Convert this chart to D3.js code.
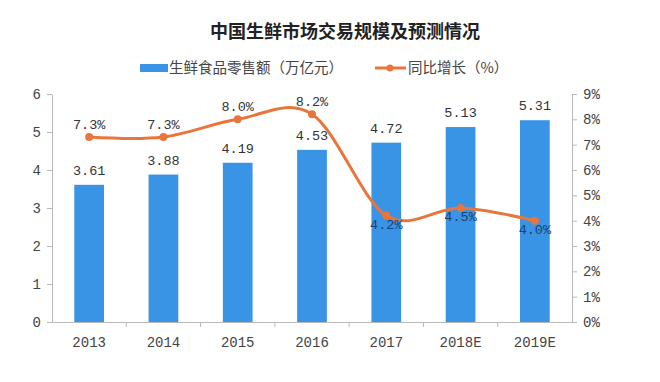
<!DOCTYPE html>
<html>
<head>
<meta charset="utf-8">
<script src="https://cdn.jsdelivr.net/npm/d3@7"></script>
<style>
  body { margin: 0; background: #fff; }
  svg { display: block; }
</style>
</head>
<body>
<div id="chart"></div>
<script>
// chart values
var years = ['2013', '2014', '2015', '2016', '2017', '2018E', '2019E'];
var sales = [3.61, 3.88, 4.19, 4.53, 4.72, 5.13, 5.31];
var growth = [7.3, 7.3, 8.0, 8.2, 4.2, 4.5, 4.0];
var leftTicks = [0, 1, 2, 3, 4, 5, 6];
var rightTicks = [0, 1, 2, 3, 4, 5, 6, 7, 8, 9];

var width = 660, height = 382;
var plotLeft = 52, plotRight = 572, plotTop = 94, plotBottom = 322;
var numFont = '"Liberation Mono", monospace';
var cjkFont = '"Noto Sans CJK SC", sans-serif';
var blue = '#3a94e6', orange = '#e8763c', axisColor = '#b8b8b8', textColor = '#444';

var svg = d3.select('#chart').append('svg').attr('width', width).attr('height', height);

var x = d3.scaleBand().domain(years).range([plotLeft, plotRight]).paddingInner(0.6).paddingOuter(0.3);
var y = d3.scaleLinear().domain([0, 6]).range([plotBottom, plotTop]);
var y2 = d3.scaleLinear().domain([0, 9]).range([plotBottom, plotTop]);

// title
svg.append('text')
   .attr('x', 345).attr('y', 38)
   .attr('text-anchor', 'middle')
   .style('font-family', cjkFont).style('font-size', '18px').style('font-weight', 'bold')
   .attr('fill', '#222')
   .text('中国生鲜市场交易规模及预测情况');

// legend
var lg = svg.append('g').style('font-family', cjkFont).style('font-size', '14.5px').attr('fill', textColor);
lg.append('rect').attr('x', 140).attr('y', 64).attr('width', 28).attr('height', 8).attr('fill', blue);
lg.append('text').attr('x', 169).attr('y', 73).text('生鲜食品零售额（万亿元）');
lg.append('line').attr('x1', 375).attr('x2', 406).attr('y1', 68).attr('y2', 68)
  .attr('stroke', orange).attr('stroke-width', 3);
lg.append('circle').attr('cx', 390).attr('cy', 68).attr('r', 3.5).attr('fill', orange);
lg.append('text').attr('x', 408).attr('y', 73).text('同比增长（%）');

// axes
function styleAxis(g) {
  g.selectAll('path, line').attr('stroke', axisColor);
  g.selectAll('text').style('font-family', numFont).style('font-size', '14px').attr('fill', textColor);
}

svg.append('g')
   .attr('transform', 'translate(' + plotLeft + ',0)')
   .call(d3.axisLeft(y).tickValues(leftTicks).tickSize(5).tickSizeOuter(0).tickPadding(6)
         .tickFormat(d3.format('d')))
   .call(styleAxis);

svg.append('g')
   .attr('transform', 'translate(' + plotRight + ',0)')
   .call(d3.axisRight(y2).tickValues(rightTicks).tickSize(5).tickSizeOuter(0).tickPadding(6)
         .tickFormat(function (d) { return d + '%'; }))
   .call(styleAxis);

var xAxis = svg.append('g')
   .attr('transform', 'translate(0,' + plotBottom + ')')
   .call(d3.axisBottom(x).tickSize(0).tickSizeOuter(0).tickPadding(15))
   .call(styleAxis);

// ticks between categories
xAxis.selectAll('.sep')
   .data(years.slice(1))
   .enter()
   .append('line')
   .attr('x1', function (d) { return x(d) - x.bandwidth() * 0.75; })
   .attr('x2', function (d) { return x(d) - x.bandwidth() * 0.75; })
   .attr('y1', 0).attr('y2', 5)
   .attr('stroke', axisColor);

// bars
svg.selectAll('rect.bar')
   .data(sales)
   .enter()
   .append('rect')
   .attr('class', 'bar')
   .attr('x', function (d, i) { return x(years[i]); })
   .attr('y', function (d) { return y(d); })
   .attr('width', x.bandwidth())
   .attr('height', function (d) { return plotBottom - y(d); })
   .attr('fill', blue);

svg.selectAll('text.barLabel')
   .data(sales)
   .enter()
   .append('text')
   .attr('class', 'barLabel')
   .attr('x', function (d, i) { return x(years[i]) + x.bandwidth() / 2; })
   .attr('y', function (d) { return y(d) - 10; })
   .attr('text-anchor', 'middle')
   .style('font-family', numFont).style('font-size', '13.5px')
   .attr('fill', '#333')
   .text(function (d) { return d.toFixed(2); });

// growth line
var cx = function (d, i) { return x(years[i]) + x.bandwidth() / 2; };
var line = d3.line()
   .x(cx)
   .y(function (d) { return y2(d); })
   .curve(d3.curveCardinal.tension(0));

svg.append('path')
   .datum(growth)
   .attr('d', line)
   .attr('fill', 'none')
   .attr('stroke', orange)
   .attr('stroke-width', 3);

svg.selectAll('circle.pt')
   .data(growth)
   .enter()
   .append('circle')
   .attr('class', 'pt')
   .attr('cx', cx)
   .attr('cy', function (d) { return y2(d); })
   .attr('r', 4)
   .attr('fill', orange);

svg.selectAll('text.lineLabel')
   .data(growth)
   .enter()
   .append('text')
   .attr('class', 'lineLabel')
   .attr('x', cx)
   .attr('y', function (d, i) { return i < 4 ? y2(d) - 8 : y2(d) + 13; })
   .attr('text-anchor', 'middle')
   .style('font-family', numFont).style('font-size', '13.5px')
   .attr('fill', function (d, i) { return i < 4 ? '#333' : '#1f3f6e'; })
   .text(function (d) { return d.toFixed(1) + '%'; });
</script>
</body>
</html>
